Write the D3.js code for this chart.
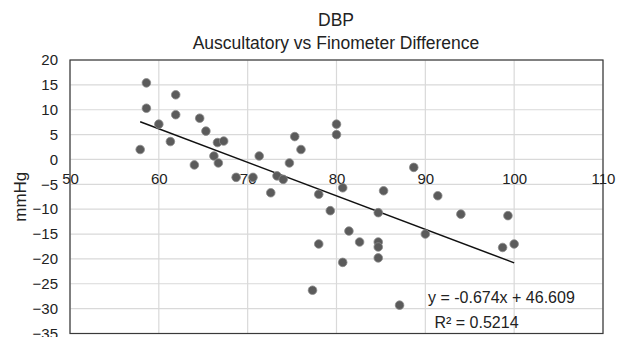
<!DOCTYPE html>
<html>
<head>
<meta charset="utf-8">
<script src="https://cdn.jsdelivr.net/npm/d3@7"></script>
<style>
  html, body { margin: 0; padding: 0; background: #fff; }
  svg { display: block; font-family: "Liberation Sans", Arial, Helvetica, sans-serif; }
</style>
</head>
<body>
<svg id="chart" width="626" height="337"></svg>
<script>
// ---- data ----
const xValues = [58.6, 61.9, 58.6, 61.9, 60.0, 64.6, 65.3, 61.3, 66.6, 67.3, 57.9, 66.2, 66.7, 64.0, 68.7, 70.6,
  71.3, 73.3, 74.0, 74.7, 75.3, 76.0, 72.6, 78.0, 80.0, 80.0, 80.7, 85.3, 88.7, 91.4, 79.3, 84.7,
  81.4, 78.0, 82.6, 84.7, 84.7, 84.7, 80.7, 77.3, 87.1, 94.0, 99.3, 90.0, 98.7, 100.0];
const yValues = [15.4, 13.0, 10.3, 9.0, 7.1, 8.3, 5.7, 3.6, 3.4, 3.7, 2.0, 0.7, -0.7, -1.1, -3.6, -3.6,
  0.7, -3.3, -4.0, -0.7, 4.6, 2.0, -6.7, -7.0, 7.1, 5.0, -5.7, -6.3, -1.6, -7.3, -10.3, -10.7,
  -14.4, -17.0, -16.6, -16.6, -17.6, -19.8, -20.7, -26.3, -29.3, -11.0, -11.3, -15.0, -17.7, -17.0];
const xTicks = [50, 60, 70, 80, 90, 100, 110];
const yTicks = [20, 15, 10, 5, 0, -5, -10, -15, -20, -25, -30, -35];
const trendSlope = -0.674;
const trendIntercept = 46.609;
const titleText = "DBP";
const subtitleText = "Auscultatory vs Finometer Difference";
const yAxisTitle = "mmHg";
const equationText = "y = -0.674x + 46.609";
const r2Text = "R² = 0.5214";

// ---- layout ----
const svg = d3.select("#chart");
const plot = { left: 70, right: 603, top: 60, bottom: 333.5 };
const x = d3.scaleLinear().domain([50, 110]).range([plot.left, plot.right]);
const y = d3.scaleLinear().domain([-35, 20]).range([plot.bottom, plot.top]);
const textColor = "#222";
const font = "'Liberation Sans', Arial, sans-serif";

// gridlines
const gridColor = "#d9d9d9";
svg.append("g").selectAll("line.h").data(yTicks).join("line")
  .attr("x1", plot.left).attr("x2", plot.right)
  .attr("y1", d => y(d)).attr("y2", d => y(d))
  .attr("stroke", gridColor).attr("stroke-width", 1.2);
svg.append("g").selectAll("line.v").data(xTicks).join("line")
  .attr("x1", d => x(d)).attr("x2", d => x(d))
  .attr("y1", plot.top).attr("y2", plot.bottom)
  .attr("stroke", gridColor).attr("stroke-width", 1.2);

// plot border
svg.append("rect")
  .attr("x", plot.left).attr("y", plot.top)
  .attr("width", plot.right - plot.left).attr("height", plot.bottom - plot.top)
  .attr("fill", "none").attr("stroke", "#3a3a3a").attr("stroke-width", 1.2);

// y axis labels
const yAxis = d3.axisLeft(y).tickValues(yTicks).tickSize(0).tickPadding(12).tickFormat(d3.format("d"));
const gy = svg.append("g").attr("transform", `translate(${plot.left},0)`).call(yAxis);
gy.select(".domain").remove();
gy.selectAll("text").attr("font-size", 15).attr("fill", textColor).attr("font-family", font);

// x axis labels along y = 0
const xAxis = d3.axisBottom(x).tickValues(xTicks).tickSize(0).tickPadding(14).tickFormat(d3.format("d"));
const gx = svg.append("g").attr("transform", `translate(0,${y(0)})`).call(xAxis);
gx.select(".domain").remove();
gx.selectAll("text").attr("font-size", 15).attr("fill", textColor).attr("font-family", font);

// trendline
const xMin = d3.min(xValues), xMax = d3.max(xValues);
svg.append("line")
  .attr("x1", x(xMin)).attr("y1", y(trendSlope * xMin + trendIntercept))
  .attr("x2", x(xMax)).attr("y2", y(trendSlope * xMax + trendIntercept))
  .attr("stroke", "#111").attr("stroke-width", 1.5);

// points
const pts = xValues.map((d, i) => ({ x: d, y: yValues[i] }));
svg.append("g").selectAll("circle").data(pts).join("circle")
  .attr("cx", d => x(d.x)).attr("cy", d => y(d.y)).attr("r", 4.3)
  .attr("fill", "#5b5b5b").attr("stroke", "#8a8a8a").attr("stroke-width", 0.8);

// titles
svg.append("text").attr("x", 336).attr("y", 26).attr("text-anchor", "middle")
  .attr("font-size", 17.5).attr("fill", textColor).text(titleText);
svg.append("text").attr("x", 336).attr("y", 48.5).attr("text-anchor", "middle")
  .attr("font-size", 17.5).attr("fill", textColor).text(subtitleText);

// y axis title
svg.append("text").attr("transform", `translate(26,${(plot.top + plot.bottom) / 2}) rotate(-90)`)
  .attr("text-anchor", "middle").attr("font-size", 17).attr("fill", textColor).text(yAxisTitle);

// equation labels
svg.append("text").attr("x", 428).attr("y", 302.5).attr("font-size", 16).attr("fill", textColor).text(equationText);
svg.append("text").attr("x", 434.5).attr("y", 327.5).attr("font-size", 16).attr("fill", textColor).text(r2Text);
</script>
</body>
</html>
